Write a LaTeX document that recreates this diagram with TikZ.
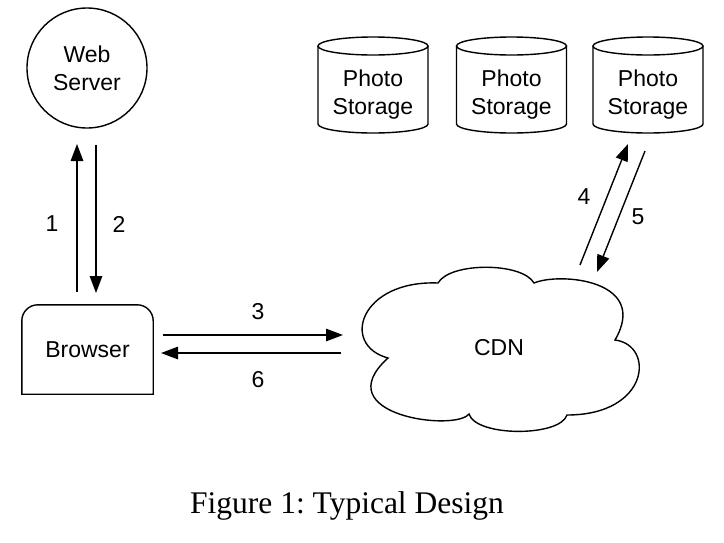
\documentclass[tikz,border=0pt]{standalone}
\usepackage{fontspec}
\setmainfont{Liberation Sans}
\newfontfamily\capfont{Liberation Serif}
\usetikzlibrary{arrows.meta,calc}
\frenchspacing
\tikzset{
  lw/.style={line width=1.4pt},
  lbl/.style={font=\fontsize{23}{28}\selectfont, inner sep=0pt},
  arr/.style={lw, -{Triangle[length=17pt,width=12.5pt]}},
  shapetxt/.style={font=\fontsize{23}{28}\selectfont, align=center, inner sep=0pt},
}
\begin{document}
\begin{tikzpicture}[x=1pt,y=1pt]
\useasboundingbox (0,0) rectangle (724,-542);
% Web server
\node[circle, draw, lw, minimum size=120pt, shapetxt] (web) at (87,-68) {Web\\Server};
% Browser
\node[shapetxt, minimum width=131pt, minimum height=89pt] (browser) at (87.5,-349.5) {Browser};
\draw[lw] (browser.south west) -- ($(browser.north west)+(0,-16)$)
  arc[start angle=180,end angle=90,radius=16] -- ($(browser.north east)+(-16,0)$)
  arc[start angle=90,end angle=0,radius=16] -- (browser.south east) -- cycle;
% Photo storage cylinders
\foreach \i/\cx in {1/373,2/511.5,3/648}{
  \draw[lw] (\cx-55,-46) -- (\cx-55,-124) arc[start angle=180,end angle=360,x radius=55,y radius=9] -- (\cx+55,-46);
  \draw[lw] (\cx,-46) ellipse [x radius=55,y radius=9];
  \node[shapetxt] (s\i) at (\cx,-95) {Photo\\Storage};
}
% CDN cloud
\node[shapetxt] (cdn) at (499,-348) {CDN};
\draw[lw] (438,-283) .. controls (450,-262) and (522,-262) .. (534,-283)
  .. controls (560,-272) and (650,-280) .. (615,-340)
  .. controls (655,-345) and (650,-415) .. (567,-415)
  .. controls (560,-437) and (476,-437) .. (469,-414)
  .. controls (455,-432) and (325,-415) .. (388,-358)
  .. controls (340,-345) and (360,-280) .. (438,-283) -- cycle;
% connector endpoints
\coordinate (a1s) at (77,-292);  \coordinate (a1e) at (77,-144);
\coordinate (a2s) at (96,-145);  \coordinate (a2e) at (96,-293);
\coordinate (a3s) at (163,-335); \coordinate (a3e) at (343,-335);
\coordinate (a6s) at (341,-353); \coordinate (a6e) at (161,-353);
\coordinate (a4s) at (580,-265); \coordinate (a4e) at (628,-144);
\coordinate (a5s) at (645,-151); \coordinate (a5e) at (597,-272);
\draw[arr] (a1s) -- (a1e);
\draw[arr] (a2s) -- (a2e);
\draw[arr] (a3s) -- (a3e);
\draw[arr] (a6s) -- (a6e);
\draw[arr] (a4s) -- (a4e);
\draw[arr] (a5s) -- (a5e);
% labels
\node[lbl] (l1) at (52,-224) {1};
\node[lbl] (l2) at (119,-224) {2};
\node[lbl] (l3) at (258,-312) {3};
\node[lbl] (l6) at (258,-380) {6};
\node[lbl] (l4) at (584,-197) {4};
\node[lbl] (l5) at (638,-217) {5};
% caption
\node[anchor=base, inner sep=0pt, font=\capfont\fontsize{31.5}{36}\selectfont] (cap) at (347,-513) {Figure 1: Typical Design};
\end{tikzpicture}
\end{document}
